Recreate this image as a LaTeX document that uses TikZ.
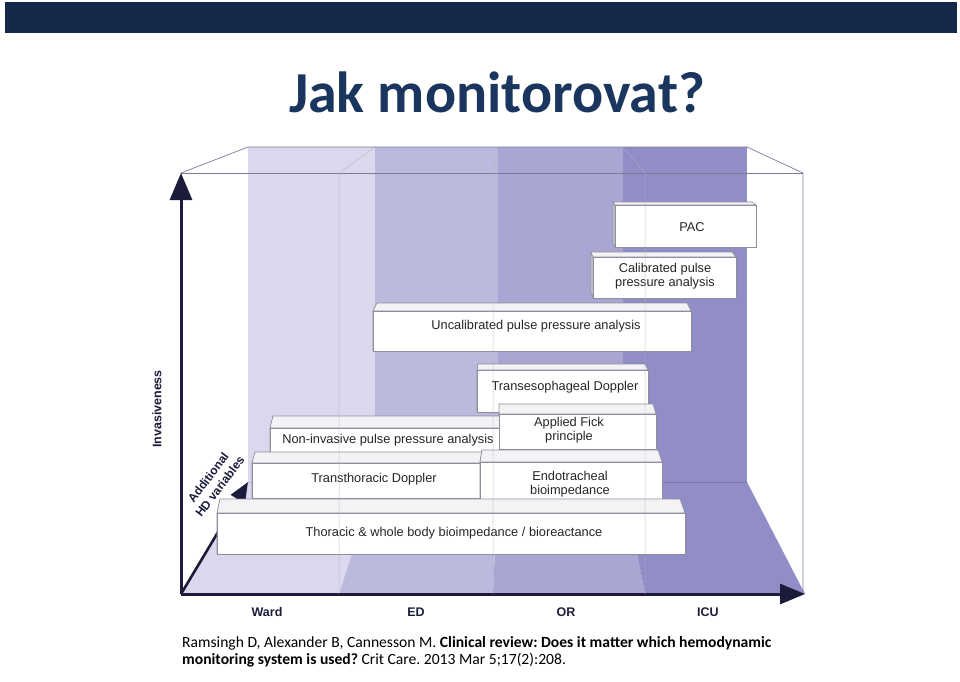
\documentclass[tikz,border=0pt]{standalone}
\usepackage{fontspec}
\setmainfont{Liberation Sans}
\newfontfamily\calib{Carlito}
\usetikzlibrary{arrows.meta}
\frenchspacing
\definecolor{bar}{HTML}{14284A}
\definecolor{titlec}{HTML}{1B365E}
\definecolor{ward}{HTML}{DBD8EE}
\definecolor{edc}{HTML}{BCB9DE}
\definecolor{orc}{HTML}{A9A6D4}
\definecolor{icu}{HTML}{908DC7}
\definecolor{axisc}{HTML}{1C1C3A}
\definecolor{framec}{HTML}{7C7A98}
\definecolor{boxline}{HTML}{8E8E9C}
\definecolor{topgray}{HTML}{F3F3F5}
\definecolor{sidegray}{HTML}{D4D4DA}
\definecolor{boxtext}{HTML}{262626}
\newcommand\boxfont{\fontsize{12.8}{14}\selectfont}
% name, x left front, x right front, y front top, y bottom, y back top, x left back, x right back
\newcommand\slab[8]{%
  \pgfmathsetmacro\slw{#3-#2}\pgfmathsetmacro\slh{#5-#4}\pgfmathsetmacro\sld{#5-(#4-#6)}%
  \path[draw=boxline, fill=sidegray, line width=0.6pt, line join=round] (#2,#4) -- (#7,#6) -- (#7,\sld) -- (#2,#5) -- cycle;
  \path[draw=boxline, fill=topgray, line width=0.6pt, line join=round] (#2,#4) -- (#7,#6) -- (#8,#6) -- (#3,#4) -- cycle;
  \node[slabbox, minimum width=\slw pt, minimum height=\slh pt] (#1) at (#2,#4) {};
}
\begin{document}
\begin{tikzpicture}[x=1pt,y=-1pt,
  slabbox/.style={draw=boxline, fill=white, line width=0.6pt, anchor=north west, inner sep=0pt},
  boxlab/.style={align=center, font=\boxfont, text=boxtext, inner sep=0pt},
  axislab/.style={font=\bfseries\fontsize{12.5}{13}\selectfont, text=axisc},
  frameline/.style={draw=framec, line width=0.7pt},
  paneline/.style={draw=black!30, line width=0.5pt, opacity=0.7},
  axisline/.style={draw=axisc, line width=3pt}]
\useasboundingbox (0,0) rectangle (960,681);
% top bar and title
\fill[bar] (5,2) rectangle (957,33);
\node[font=\calib\bfseries\fontsize{58}{60}\selectfont, text=titlec, anchor=base, inner sep=0] (title) at (497,112) {Jak monitorovat?};
% back wall bands
\fill[ward] (248,147) rectangle (375,482);
\fill[edc] (375,147) rectangle (498,482);
\fill[orc] (498,147) rectangle (623,482);
\fill[icu] (623,147) rectangle (747,482);
% floor bands
\fill[ward] (248,482) -- (375,482) -- (339,594) -- (181,594) -- cycle;
\fill[edc] (375,482) -- (498,482) -- (493,594) -- (339,594) -- cycle;
\fill[orc] (498,482) -- (623,482) -- (645,594) -- (493,594) -- cycle;
\fill[icu] (623,482) -- (747,482) -- (805,594) -- (645,594) -- cycle;
\draw[black, opacity=0.15, line width=0.6pt] (248,482) -- (747,482);
% frame
\coordinate (O) at (181,594);
\coordinate (Ytop) at (181,173);
\coordinate (Xend) at (805,594);
\coordinate (Zend) at (248,482);
\coordinate (FR) at (803,173);
\coordinate (FRb) at (803,594);
\coordinate (BL) at (248,147);
\coordinate (BR) at (747,147);
\draw[frameline] (Ytop) -- (BL) -- (BR) -- (FR) -- (FRb);
\draw[frameline] (Ytop) -- (FR);
% axes
\draw[axisline, -{Triangle[length=27pt,width=22pt]}] (O) -- (Ytop);
\draw[axisline, -{Triangle[length=25pt,width=20pt]}] (O) -- (Xend);
\draw[axisline, line width=2.6pt, -{Triangle[length=20pt,width=16pt]}] (O) -- (Zend);
% slabs
\slab{pac}{615}{756}{205}{247}{202}{613}{752}
\slab{cal}{593}{736}{257}{298}{252}{591}{732}
\slab{unc}{373}{691}{311}{351}{303}{377}{687}
\slab{tee}{477}{648}{370}{412}{364}{478}{645}
\slab{nip}{270}{506}{428}{452}{416}{273}{502}
\slab{fick}{499}{656}{414}{449}{404}{499}{653}
\slab{ttd}{252}{497}{463}{498}{452}{255}{493}
\slab{etb}{480}{662}{462}{503}{450}{482}{658}
\slab{tbi}{217}{685}{513}{554}{499}{220}{680}
% slab labels
\node[boxlab] (pacT) at (692,227) {PAC};
\node[boxlab] (calT) at (665,276) {Calibrated pulse\\pressure analysis};
\node[boxlab] (uncT) at (536,326) {Uncalibrated pulse pressure analysis};
\node[boxlab] (teeT) at (565,387) {Transesophageal Doppler};
\node[boxlab] (nipT) at (388,440) {Non-invasive pulse pressure analysis};
\node[boxlab] (fickT) at (569,430) {Applied Fick\\principle};
\node[boxlab] (ttdT) at (374,479) {Transthoracic Doppler};
\node[boxlab] (etbT) at (570,484) {Endotracheal\\bioimpedance};
\node[boxlab] (tbiT) at (454,533) {Thoracic \& whole body bioimpedance / bioreactance};
% front pane division lines
\draw[paneline] (375,147) -- (339,173) -- (339,594);
\draw[paneline] (498,147) -- (493,173) -- (493,594);
\draw[paneline] (623,147) -- (645,173) -- (645,594);
% axis labels
\node[axislab] (ward) at (267,612) {Ward};
\node[axislab] (ed) at (416,612) {ED};
\node[axislab] (or) at (566,612) {OR};
\node[axislab] (icu) at (708,612) {ICU};
\node[axislab, rotate=90] (inv) at (157,409) {Invasiveness};
\node[axislab, rotate=53, align=center, font=\bfseries\fontsize{12}{14.5}\selectfont, inner sep=0] (hd) at (214,482) {Additional\\HD variables};
% citation
\node[anchor=base west, inner sep=0, font=\calib\fontsize{15.6}{18}\selectfont] (cite1) at (182,647) {Ramsingh D, Alexander B, Cannesson M. \textbf{Clinical review: Does it matter which hemodynamic}};
\node[anchor=base west, inner sep=0, font=\calib\fontsize{15.6}{18}\selectfont] (cite2) at (182,664) {\textbf{monitoring system is used?} Crit Care. 2013 Mar 5;17(2):208.};
\end{tikzpicture}
\end{document}
